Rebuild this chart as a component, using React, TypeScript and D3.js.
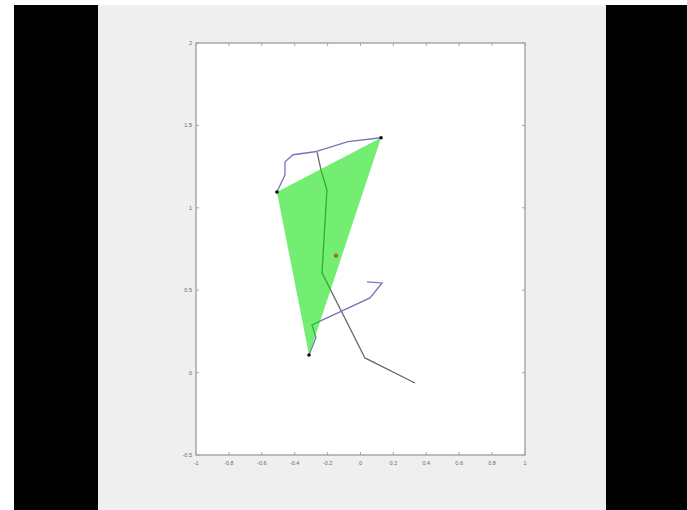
import React from "react";
import * as d3 from "d3";

const xTicks = [-1, -0.8, -0.6, -0.4, -0.2, 0, 0.2, 0.4, 0.6, 0.8, 1];
const yTicks = [-0.5, 0, 0.5, 1, 1.5, 2];

const triangle: [number, number][] = [
  [0.125, 1.425],
  [-0.508, 1.096],
  [-0.313, 0.107],
];
const centroid: [number, number] = [-0.149, 0.71];

const upperPath: [number, number][] = [
  [-0.508, 1.096],
  [-0.459, 1.2],
  [-0.459, 1.279],
  [-0.41, 1.322],
  [-0.277, 1.34],
  [-0.076, 1.401],
  [0.125, 1.425],
];
const lowerPath: [number, number][] = [
  [-0.313, 0.107],
  [-0.271, 0.211],
  [-0.295, 0.29],
  [0.058, 0.453],
  [0.131, 0.544],
  [0.04, 0.55],
];
const grayPath: [number, number][] = [
  [-0.264, 1.338],
  [-0.24, 1.229],
  [-0.204, 1.108],
  [-0.216, 0.908],
  [-0.234, 0.605],
  [0.027, 0.089],
  [0.331, -0.063],
];

export default function App() {
  const W = 687, H = 510;
  const x = d3.scaleLinear().domain([-1, 1]).range([196, 525]);
  const y = d3.scaleLinear().domain([-0.5, 2]).range([455, 43]);
  const line = d3.line<[number, number]>().x(d => x(d[0])).y(d => y(d[1]));
  const poly = (pts: [number, number][]) => line(pts)! + "Z";
  const axisColor = "#a8a8a8";
  const labelColor = "#666";
  const fs = 5.5;
  return (
    <svg width={W} height={H} style={{ position: "absolute", left: 0, top: 0, display: "block" }}>
      <rect x={0} y={0} width={W} height={H} fill="#ffffff" />
      <rect x={14} y={5} width={84} height={H - 5} fill="#000" />
      <rect x={606} y={5} width={W - 606} height={H - 5} fill="#000" />
      <rect x={98} y={5} width={508} height={H - 5} fill="#efefef" />
      <rect x={x(-1)} y={y(2)} width={x(1) - x(-1)} height={y(-0.5) - y(2)} fill="#fff" />
      {/* lines under patch */}
      <path d={line(grayPath)!} fill="none" stroke="#6a6a6a" strokeWidth={1.3} />
      <path d={line(upperPath)!} fill="none" stroke="#7474bc" strokeWidth={1.3} />
      <path d={line(lowerPath)!} fill="none" stroke="#7474bc" strokeWidth={1.3} />
      <path d={poly(triangle)} fill="#00e000" fillOpacity={0.55} stroke="none" />
      {triangle.map((p, i) => (
        <circle key={i} cx={x(p[0])} cy={y(p[1])} r={1.8} fill="#111" />
      ))}
      <circle cx={x(centroid[0])} cy={y(centroid[1])} r={1.8} fill="#e06020" stroke="#8a3a10" strokeWidth={0.6} />
      {/* box */}
      <rect x={x(-1)} y={y(2)} width={x(1) - x(-1)} height={y(-0.5) - y(2)} fill="none" stroke={axisColor} strokeWidth={1.5} />
      {xTicks.map(t => (
        <g key={"x" + t}>
          <line x1={x(t)} x2={x(t)} y1={y(-0.5)} y2={y(-0.5) - 3} stroke={axisColor} strokeWidth={1} />
          <line x1={x(t)} x2={x(t)} y1={y(2)} y2={y(2) + 3} stroke={axisColor} strokeWidth={1} />
          <text x={x(t)} y={y(-0.5) + 10} fontSize={fs} fill={labelColor} textAnchor="middle" fontFamily="Liberation Sans, Arial, sans-serif">
            {String(t)}
          </text>
        </g>
      ))}
      {yTicks.map(t => (
        <g key={"y" + t}>
          <line x1={x(-1)} x2={x(-1) + 3} y1={y(t)} y2={y(t)} stroke={axisColor} strokeWidth={1} />
          <line x1={x(1)} x2={x(1) - 3} y1={y(t)} y2={y(t)} stroke={axisColor} strokeWidth={1} />
          <text x={x(-1) - 4} y={y(t) + 2} fontSize={fs} fill={labelColor} textAnchor="end" fontFamily="Liberation Sans, Arial, sans-serif">
            {String(t)}
          </text>
        </g>
      ))}
    </svg>
  );
}
